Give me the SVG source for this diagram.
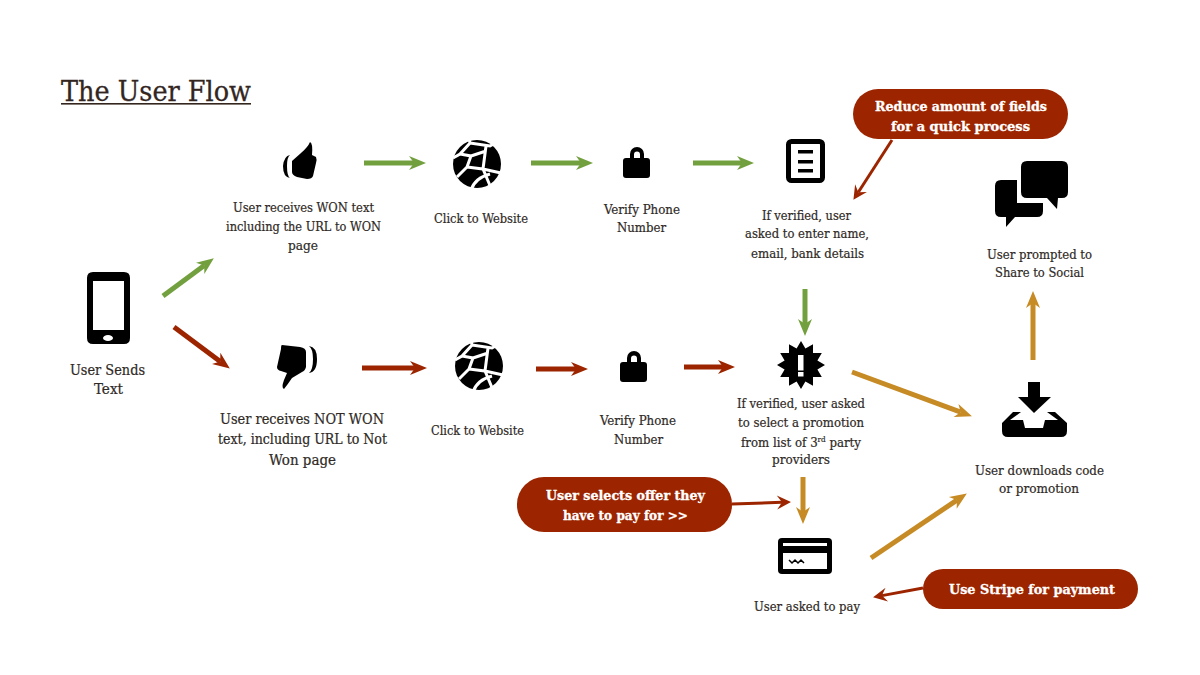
<svg xmlns="http://www.w3.org/2000/svg" width="1200" height="675" viewBox="0 0 1200 675">
<style>
text{font-family:"DejaVu Serif Condensed","DejaVu Serif","Liberation Serif",serif}
.t{font-size:13px;fill:#2f2a26;stroke:#2f2a26;stroke-width:.2}
.b{font-size:14px;fill:#2f2a26;stroke:#2f2a26;stroke-width:.2}
.c{font-size:13.500px;font-weight:700;fill:#fff;stroke:#fff;stroke-width:.3}
.pill{fill:#9c2500}
.i{fill:#000}
.net{fill:none;stroke:#fff;stroke-width:3}
.g,.r,.o,.s{fill:none}
.g{stroke:#73a03f;stroke-width:5}
.r{stroke:#9c2500;stroke-width:5}
.o{stroke:#c68b25;stroke-width:5}
.s{stroke:#9c2500;stroke-width:3}
</style>
<defs>
<marker id="mg" markerUnits="userSpaceOnUse" viewBox="0 0 19 16" markerWidth="19" markerHeight="16" refX="6" refY="8" orient="auto"><path d="M1,1L18,8L1,15L6,8Z" fill="#73a03f"/></marker>
<marker id="mr" markerUnits="userSpaceOnUse" viewBox="0 0 19 16" markerWidth="19" markerHeight="16" refX="6" refY="8" orient="auto"><path d="M1,1L18,8L1,15L6,8Z" fill="#9c2500"/></marker>
<marker id="mo" markerUnits="userSpaceOnUse" viewBox="0 0 19 16" markerWidth="19" markerHeight="16" refX="6" refY="8" orient="auto"><path d="M1,1L18,8L1,15L6,8Z" fill="#c68b25"/></marker>
<marker id="ms" markerUnits="userSpaceOnUse" viewBox="0 0 19 16" markerWidth="19" markerHeight="16" refX="6" refY="8" orient="auto"><path d="M1,1L15,8L1,15L6,8Z" fill="#9c2500"/></marker>
<g id="globe"><circle r="24" class="i"/><path class="net" d="M-24,-6L-17,-10L-7,-21L-8,-26M-7,-21L13,-18L20,-22M-17,-10L-6,-8L-10,3L6,5L9,-18M-6,-8L9,-13M-10,3L-20,13M6,5L24,9M6,5L14,24M-6,26Q-2,14 13,10"/></g>
<g id="lock"><path class="i" d="M7,12V7A7,7 0 0 1 21,7V12H17V7.500A3,3 0 0 0 11,7.500V12Z"/><rect y="11" width="27" height="20" rx="3" class="i"/></g>
</defs>
<rect width="1200" height="675" fill="#fff"/>
<g id="title"><text x="61" y="101" font-size="27" fill="#33261f" stroke="#33261f" stroke-width=".3" textLength="190" lengthAdjust="spacingAndGlyphs">The User Flow</text><rect x="61" y="103" width="190" height="1.600" fill="#33261f"/></g>
<g id="connectors">
<path class="g" marker-end="url(#mg)" d="M163,296L204.200,265.500"/>
<path class="r" marker-end="url(#mr)" d="M174,327L220.200,361.400"/>
<path class="g" marker-end="url(#mg)" d="M364,163H414"/>
<path class="g" marker-end="url(#mg)" d="M531,163H581"/>
<path class="g" marker-end="url(#mg)" d="M693,163H742"/>
<path class="g" marker-end="url(#mg)" d="M805,289V324"/>
<path class="r" marker-end="url(#mr)" d="M362,368H415"/>
<path class="r" marker-end="url(#mr)" d="M536,369H576"/>
<path class="r" marker-end="url(#mr)" d="M684,367H723"/>
<path class="o" marker-end="url(#mo)" d="M852,372L960.700,412.200"/>
<path class="o" marker-end="url(#mo)" d="M803,477V512"/>
<path class="o" marker-end="url(#mo)" d="M871,558L956.900,500.100"/>
<path class="o" marker-end="url(#mo)" d="M1033,360V303"/>
<path class="s" marker-end="url(#ms)" d="M892,140L858.300,192.300"/>
<path class="s" marker-end="url(#ms)" d="M732,504L782,502.300"/>
<path class="s" marker-end="url(#ms)" d="M923,588L881.900,595.600"/>
</g>
<g id="send"><path class="i" fill-rule="evenodd" d="M93,272H124Q130,272 130,278V338Q130,344 124,344H93Q87,344 87,338V278Q87,272 93,272ZM93,281V330H124V281Z"/><ellipse cx="108" cy="338" rx="5" ry="3" fill="#fff"/>
<text class="b" x="70" y="375" textLength="75" lengthAdjust="spacingAndGlyphs">User Sends</text><text class="b" x="94" y="394" textLength="29" lengthAdjust="spacingAndGlyphs">Text</text></g>
<g id="won"><path class="i" d="M290,155Q284,156 283,166Q283,177 290,178Q287,176 287,166Q287,157 290,155Z"/><path class="i" d="M292,161L301,153Q308,147 310,142Q313,143 312,155L316,157Q317,159 316,163L313,176Q312,179 307,179L297,177Q292,175 292,172Z"/>
<text class="t" x="233" y="212" textLength="141" lengthAdjust="spacingAndGlyphs">User receives WON text</text><text class="t" x="226" y="231" textLength="155" lengthAdjust="spacingAndGlyphs">including the URL to WON</text><text class="t" x="288" y="250" textLength="30" lengthAdjust="spacingAndGlyphs">page</text></g>
<g id="web1"><use href="#globe" x="477" y="164"/><text class="t" x="434" y="223" textLength="94" lengthAdjust="spacingAndGlyphs">Click to Website</text></g>
<g id="verify1"><use href="#lock" x="623" y="147"/><text class="t" x="604" y="214" textLength="76" lengthAdjust="spacingAndGlyphs">Verify Phone</text><text class="t" x="617" y="232" textLength="49" lengthAdjust="spacingAndGlyphs">Number</text></g>
<g id="form"><rect x="788.500" y="141.500" width="34" height="39" rx="3" fill="none" stroke="#000" stroke-width="5"/><rect x="798" y="150" width="15" height="3.500" class="i"/><rect x="798" y="160" width="15" height="3.500" class="i"/><rect x="798" y="169" width="15" height="3.500" class="i"/>
<text class="t" x="762" y="220" textLength="89" lengthAdjust="spacingAndGlyphs">If verified, user</text><text class="t" x="745" y="238" textLength="124" lengthAdjust="spacingAndGlyphs">asked to enter name,</text><text class="t" x="751" y="258" textLength="113" lengthAdjust="spacingAndGlyphs">email, bank details</text></g>
<g id="share"><path class="i" d="M1001,180H1017V203H1043V211Q1043,217 1037,217H1015L1006,227V217H1001Q995,217 995,211V186Q995,180 1001,180Z"/><path class="i" d="M1027,161H1062Q1068,161 1068,167V192Q1068,198 1062,198H1058L1057,209L1047,198H1027Q1021,198 1021,192V167Q1021,161 1027,161Z"/>
<text class="t" x="987" y="259" textLength="105" lengthAdjust="spacingAndGlyphs">User prompted to</text><text class="t" x="995" y="277" textLength="89" lengthAdjust="spacingAndGlyphs">Share to Social</text></g>
<g id="notwon"><path class="i" d="M309,346Q317,347 317,359Q317,372 309,373Q313,370 313,359Q313,349 309,346Z"/><path class="i" d="M282,345L300,347Q306,348 306,352L306,367Q305,371 302,372L292,378Q288,384 284,389Q281,388 284,380L287,373L281,371Q277,370 277,367L281,349Q281,345 282,345Z"/>
<text class="b" x="220" y="424" textLength="164" lengthAdjust="spacingAndGlyphs">User receives NOT WON</text><text class="b" x="218" y="444" textLength="169" lengthAdjust="spacingAndGlyphs">text, including URL to Not</text><text class="b" x="269" y="465" textLength="67" lengthAdjust="spacingAndGlyphs">Won page</text></g>
<g id="web2"><use href="#globe" x="479" y="366"/><text class="t" x="431" y="435" textLength="93" lengthAdjust="spacingAndGlyphs">Click to Website</text></g>
<g id="verify2"><use href="#lock" x="620" y="351"/><text class="t" x="600" y="425" textLength="76" lengthAdjust="spacingAndGlyphs">Verify Phone</text><text class="t" x="614" y="444" textLength="49" lengthAdjust="spacingAndGlyphs">Number</text></g>
<g id="promo"><polygon class="i" transform="translate(801,365)" points="24,0 16.400,4.400 20.800,12 12,12 12,20.800 4.400,16.400 0,24 -4.400,16.400 -12,20.800 -12,12 -20.800,12 -16.400,4.400 -24,0 -16.400,-4.400 -20.800,-12 -12,-12 -12,-20.800 -4.400,-16.400 0,-24 4.400,-16.400 12,-20.800 12,-12 20.800,-12 16.400,-4.400"/><rect x="798" y="355" width="5.500" height="15.500" fill="#fff"/><rect x="798" y="372" width="5.500" height="4.500" fill="#fff"/>
<text class="t" x="737" y="408" textLength="128" lengthAdjust="spacingAndGlyphs">If verified, user asked</text><text class="t" x="738" y="427" textLength="126" lengthAdjust="spacingAndGlyphs">to select a promotion</text><text class="t" x="741" y="447" textLength="120" lengthAdjust="spacingAndGlyphs">from list of 3<tspan font-size="8" dy="-5">rd</tspan><tspan dy="5"> party</tspan></text><text class="t" x="772" y="464" textLength="58" lengthAdjust="spacingAndGlyphs">providers</text></g>
<g id="download"><polygon class="i" points="1028,382 1040,382 1040,397 1051,397 1034,413 1018,397 1028,397"/><path class="i" d="M1013,412H1021L1010,420H1023L1025,428H1043L1045,420H1058L1047,412H1055L1067,423V431Q1067,437 1061,437H1008Q1002,437 1002,431V423Z"/>
<text class="t" x="975" y="475" textLength="129" lengthAdjust="spacingAndGlyphs">User downloads code</text><text class="t" x="999" y="493" textLength="80" lengthAdjust="spacingAndGlyphs">or promotion</text></g>
<g id="pay"><rect x="778" y="538" width="54" height="36" rx="4" class="i"/><rect x="783" y="543" width="44" height="3" fill="#fff"/><rect x="783" y="553" width="44" height="16" fill="#fff"/><path d="M789,560L792,563L795,560L798,563L801,560L804,563" fill="none" stroke="#000" stroke-width="1.500"/>
<text class="t" x="754" y="611" textLength="106" lengthAdjust="spacingAndGlyphs">User asked to pay</text></g>
<g id="note-fields"><rect class="pill" x="853" y="89" width="215" height="50" rx="25"/><text class="c" x="875" y="111" textLength="172" lengthAdjust="spacingAndGlyphs">Reduce amount of fields</text><text class="c" x="891" y="131" textLength="139" lengthAdjust="spacingAndGlyphs">for a quick process</text></g>
<g id="note-offer"><rect class="pill" x="517" y="477" width="215" height="55" rx="27"/><text class="c" x="546" y="500" textLength="159" lengthAdjust="spacingAndGlyphs">User selects offer they</text><text class="c" x="563" y="520" textLength="125" lengthAdjust="spacingAndGlyphs">have to pay for &gt;&gt;</text></g>
<g id="note-stripe"><rect class="pill" x="923" y="569" width="215" height="40" rx="20"/><text class="c" x="949" y="594" textLength="166" lengthAdjust="spacingAndGlyphs">Use Stripe for payment</text></g>
</svg>
